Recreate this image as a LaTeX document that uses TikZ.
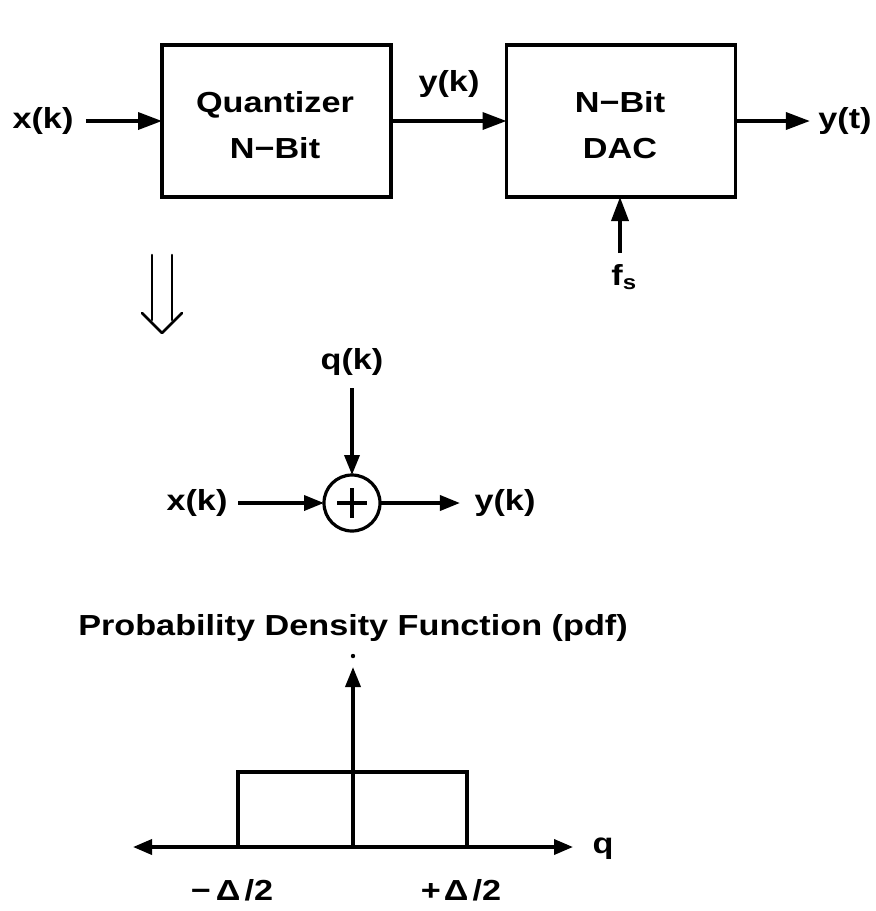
\documentclass[tikz,border=0pt]{standalone}
\usepackage{fontspec}
\setmainfont{Liberation Sans}[FakeStretch=1.18]
\usetikzlibrary{arrows.meta}
\begin{document}
\begin{tikzpicture}[x=1pt,y=-1pt,
  every node/.style={font=\fontsize{29}{46}\selectfont\bfseries, inner sep=0pt, outer sep=0pt},
  blk/.style={draw, line width=3.8pt, minimum width=229pt, minimum height=152pt},
  blktext/.style={align=center},
  arr/.style={line width=3.6pt, -{Triangle[length=24pt,width=17pt]}},
  sarr/.style={line width=3.6pt, -{Triangle[length=20pt,width=15pt]}},
  axarr/.style={line width=3.6pt, {Triangle[length=19pt,width=15pt]}-{Triangle[length=19pt,width=15pt]}},
  thinl/.style={line width=2.6pt, line cap=round, line join=round}]
\useasboundingbox (0,0) rectangle (876,911);
% top row
\node[blk] (quant) at (276.5,121) {};
\node[blk] (dac) at (621,121) {};
\node[blktext] (quanttext) at (275,125) {Quantizer\\N−Bit};
\node[blktext] (dactext) at (620,125) {N−Bit\\DAC};
\node[inner xsep=12.5pt] (xk) at (43,121) {x(k)};
\node (yk) at (449,84) {y(k)};
\node[inner xsep=8.5pt] (yt) at (845,121) {y(t)};
\node (fs) at (624,277) {f\textsubscript{s}};
\coordinate (fstail) at (620,253);
\draw[arr] (xk) -- (quant);
\draw[arr] (quant) -- (dac);
\draw[arr] (dac) -- (yt);
\draw[arr] (fstail) -- (fstail |- dac.south);
% implies arrow
\draw[thinl] (152,255) -- (152,320) (172,255) -- (172,320);
\draw[thinl] (142,313) -- (162,333) -- (182,313);
% summer
\node[draw, circle, line width=3.2pt, minimum size=56pt] (sum) at (352,503) {};
\draw[line width=3.2pt] (337,503) -- (367,503) (352,488) -- (352,518);
\node (qk) at (352,362) {q(k)};
\coordinate (qtail) at (352,388);
\node[inner xsep=10.6pt] (xk2) at (197,503) {x(k)};
\node[inner xsep=14.6pt] (yk2) at (505,503) {y(k)};
\draw[sarr] (qtail) -- (sum);
\draw[sarr] (xk2) -- (sum);
\draw[sarr] (sum) -- (yk2);
% pdf
\node (title) at (353,628) {Probability Density Function (pdf)};
\coordinate (orig) at (353,847);
\coordinate (ytop) at (353,667);
\coordinate (xl) at (133,847);
\coordinate (xr) at (573,847);
\fill (353,656) circle (2.2);
\draw[line width=3.6pt] (238,847) rectangle (467,772);
\draw[sarr] (orig) -- (ytop);
\draw[axarr] (xl) -- (xr);
\node (q) at (603,849) {q};
\node (lm) at (232,890) {−\hspace{5pt}Δ\hspace{4pt}/2};
\node (lp) at (461,890) {+\hspace{3pt}Δ\hspace{4pt}/2};
\end{tikzpicture}
\end{document}
